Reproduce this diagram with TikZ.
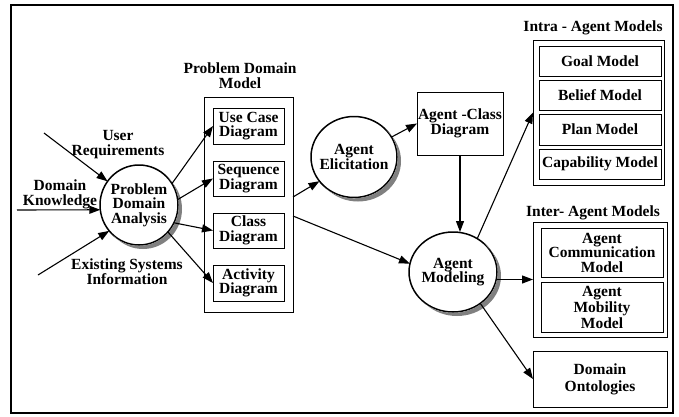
\documentclass[tikz,border=0pt]{standalone}
\usepackage{fontspec}
\setmainfont{Liberation Serif}
\usetikzlibrary{shapes.geometric,arrows.meta,calc}
\begin{document}
\begin{tikzpicture}[x=1pt,y=-1pt,
  every node/.style={font=\fontsize{15.5}{14.5}\selectfont\bfseries, align=center, inner sep=0pt, outer sep=0pt},
  bubble/.style={ellipse, draw, line width=1.5pt, fill=white},
  panel/.style={draw, line width=0.7pt, fill=white},
  card/.style={draw, line width=0.9pt, fill=white},
  arr/.style={-{Triangle[length=11pt,width=8pt]}, line width=1.1pt},
  lbl/.style={font=\fontsize{15.5}{15}\selectfont\bfseries}]
\useasboundingbox (0,0) rectangle (679,416);
\draw[line width=1.5pt] (11,5) rectangle (673,413);

% analysis bubble and its inputs
\node[bubble, minimum width=78pt, minimum height=80pt,
  label={[align=center]center:Problem\\Domain\\Analysis}] (pda) at (139,205) {};
\coordinate (inUser) at (44,133);
\coordinate (inDom) at (17,210);
\coordinate (inExist) at (38,275);
\node[lbl] (lUser) at (118,145) {User\\Requirements};
\node[lbl] (lDom) at (60,194) {Domain\\Knowledge};
\node[lbl] (lExist) at (127,272) {Existing Systems\\Information};

% problem domain model
\node[lbl] (tPdm) at (240,76) {Problem Domain\\Model};
\node[panel, minimum width=89pt, minimum height=215pt] (pdm) at (248.5,204.5) {};
\node[card, minimum width=71pt, minimum height=36pt] (uc) at (248.5,126) {Use Case\\Diagram};
\node[card, minimum width=71pt, minimum height=35pt] (seq) at (248.5,178.5) {Sequence\\Diagram};
\node[card, minimum width=71pt, minimum height=35pt] (cls) at (248.5,230.5) {Class\\Diagram};
\node[card, minimum width=71pt, minimum height=36pt] (act) at (248.5,283) {Activity\\Diagram};

% agent bubbles
\node[bubble, minimum width=86pt, minimum height=81pt,
  label={[align=center]center:Agent\\Elicitation}] (elic) at (354,157) {};
\node[card, line width=0.7pt, minimum width=86pt, minimum height=63pt] (acd) at (460,123.5) {Agent -Class\\Diagram};
\node[bubble, minimum width=88pt, minimum height=80pt,
  label={[align=center]center:Agent\\Modeling}] (mod) at (453,272) {};

% crescent shadows on the lower right of each bubble
\foreach \c/\rx/\ry in {pda/39.8/40.8, elic/43.8/41.3, mod/44.8/40.8}{
  \fill[gray]
    ($(\c.center)+({\rx*cos(-45)},{\ry*sin(-45)})$)
      arc[start angle=-45, end angle=135, x radius=\rx, y radius=\ry]
    -- ($(\c.center)+(4,4)+({(\rx-0.8)*cos(135)},{(\ry-0.8)*sin(135)})$)
      arc[start angle=135, end angle=-45, x radius=\rx-0.8, y radius=\ry-0.8]
    -- cycle;
}

% flows
\draw[arr] (inUser) -- (pda.143);
\draw[arr] (inDom) -- (pda.187);
\draw[arr] (inExist) -- (pda.221);
\draw[arr] (pda.33) -- (uc.west);
\draw[arr] (pda.8) -- (seq.west);
\draw[arr] (pda.-27) -- (cls.west);
\draw[arr] (pda.-43) -- (act.west);

\coordinate (pdmOut1) at (293,197);
\coordinate (pdmOut2) at (293,216);
\draw[arr] (pdmOut1) -- (elic.215);
\draw[arr] (elic.28) -- (acd.west);
\draw[arr] (pdmOut2) -- (mod.169);
\draw[arr] (acd.south) -- (acd.south |- mod.north);

% intra-agent models
\node[lbl] (tIntra) at (593,28) {Intra - Agent Models};
\node[panel, minimum width=131pt, minimum height=145pt] (intra) at (598.5,112.5) {};
\node[card, minimum width=122pt, minimum height=30pt] (goal) at (600,61) {Goal Model};
\node[card, minimum width=122pt, minimum height=30pt] (belief) at (600,95) {Belief Model};
\node[card, minimum width=122pt, minimum height=31pt] (plan) at (600,129.5) {Plan Model};
\node[card, minimum width=122pt, minimum height=30pt] (capab) at (600,164) {Capability Model};

% inter-agent models
\node[lbl] (tInter) at (593,213) {Inter- Agent Models};
\node[panel, minimum width=134pt, minimum height=115pt] (inter) at (600,279.5) {};
\node[card, minimum width=122pt, minimum height=49pt, font=\fontsize{15.5}{14.5}\selectfont\bfseries] (comm) at (602,252.5) {Agent\\Communication\\Model};
\node[card, minimum width=122pt, minimum height=50pt, font=\fontsize{15.5}{16}\selectfont\bfseries] (mob) at (602,307) {Agent\\Mobility\\Model};

% ontologies
\node[card, line width=0.7pt, minimum width=134pt, minimum height=56pt, font=\fontsize{15.5}{17}\selectfont\bfseries] (dom) at (600,379) {Domain\\Ontologies};

\draw[arr] (mod.54) -- (intra.west);
\draw[arr] (inter.west -| mod.east) -- (inter.west);
\draw[arr] (mod.-49) -- (dom.west);
\end{tikzpicture}
\end{document}
